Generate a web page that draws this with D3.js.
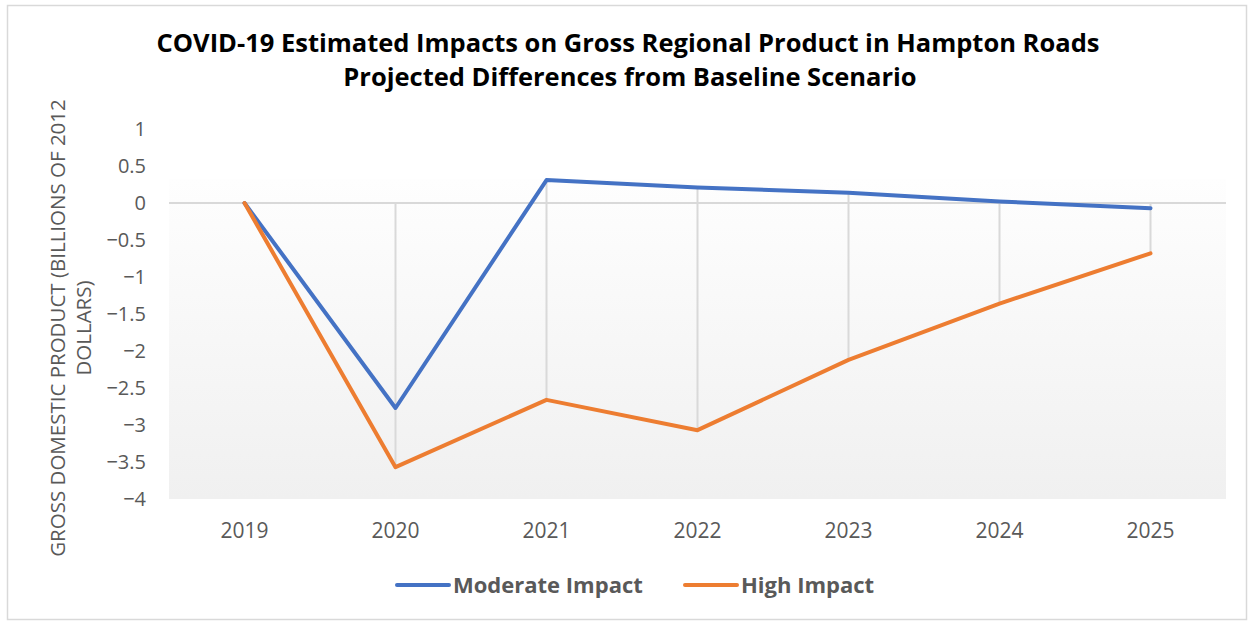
<!DOCTYPE html>
<html>
<head>
<meta charset="utf-8">
<script src="https://cdn.jsdelivr.net/npm/d3@7"></script>
<style>
	body { margin: 0; background: #fff; font-family: "Open Sans", sans-serif; }
	svg text { fill: #595959; }
</style>
</head>
<body>
<div id="___line_chart"></div>
<script>
// data
var years = ["2019", "2020", "2021", "2022", "2023", "2024", "2025"];
var moderate = [0, -2.77, 0.31, 0.21, 0.14, 0.02, -0.07];
var high = [0, -3.57, -2.66, -3.07, -2.12, -1.36, -0.68];
var yTicks = [1, 0.5, 0, -0.5, -1, -1.5, -2, -2.5, -3, -3.5, -4];
var seriesNames = ["Moderate Impact", "High Impact"];
var seriesColors = ["#4472C4", "#ED7D31"];

var width = 1253, height = 623;
var margin = { top: 129, right: 27, bottom: 124, left: 169 };

var svg = d3.select("#___line_chart")
	.append("svg")
	.attr("width", width)
	.attr("height", height);

// chart frame
svg.append("rect")
	.attr("x", 7.5).attr("y", 5.5)
	.attr("width", 1239).attr("height", 614)
	.attr("fill", "#fff")
	.attr("stroke", "#d9d9d9")
	.attr("stroke-width", 1.5);

var x = d3.scaleBand()
	.domain(years)
	.range([margin.left, width - margin.right]);

var y = d3.scaleLinear()
	.domain([-4, 1])
	.range([height - margin.bottom, margin.top]);

// plot area gradient
var defs = svg.append("defs");
var grad = defs.append("linearGradient")
	.attr("id", "plotbg")
	.attr("x1", 0).attr("y1", 0).attr("x2", 0).attr("y2", 1);
grad.append("stop").attr("offset", "0%").attr("stop-color", "#fefefe");
grad.append("stop").attr("offset", "100%").attr("stop-color", "#f0f0f0");

var plotTop = 0.32;
svg.append("rect")
	.attr("x", x.range()[0])
	.attr("y", y(plotTop))
	.attr("width", x.range()[1] - x.range()[0])
	.attr("height", y(-4) - y(plotTop))
	.attr("fill", "url(#plotbg)");

// high-low lines (baseline zero included)
svg.append("g")
	.selectAll("line")
	.data(years)
	.enter()
	.append("line")
	.attr("x1", function (d) { return x(d) + x.bandwidth() / 2; })
	.attr("x2", function (d) { return x(d) + x.bandwidth() / 2; })
	.attr("y1", function (d, i) { return y(Math.max(0, moderate[i], high[i])); })
	.attr("y2", function (d, i) { return y(Math.min(0, moderate[i], high[i])); })
	.attr("stroke", "#d9d9d9")
	.attr("stroke-width", 2);

// zero axis line
svg.append("line")
	.attr("x1", x.range()[0]).attr("x2", x.range()[1])
	.attr("y1", y(0)).attr("y2", y(0))
	.attr("stroke", "#d9d9d9")
	.attr("stroke-width", 2);

// y axis labels
var yAxis = svg.append("g")
	.attr("transform", "translate(" + (margin.left - 23) + ",0)")
	.call(d3.axisLeft(y).tickValues(yTicks).tickSize(0).tickPadding(0).tickFormat(d3.format("")));
yAxis.select(".domain").remove();
yAxis.selectAll("text")
	.attr("font-family", "Open Sans")
	.attr("font-size", 20)
	.style("fill", "#595959");

// x axis labels
var xAxis = svg.append("g")
	.attr("transform", "translate(0," + (height - margin.bottom + 24) + ")")
	.call(d3.axisBottom(x).tickSize(0).tickPadding(0));
xAxis.select(".domain").remove();
xAxis.selectAll("text")
	.attr("font-family", "Open Sans")
	.attr("font-size", 21)
	.style("fill", "#595959");

// lines
var line = d3.line()
	.x(function (d, i) { return x(years[i]) + x.bandwidth() / 2; })
	.y(function (d) { return y(d); });

[moderate, high].forEach(function (s, k) {
	svg.append("path")
		.datum(s)
		.attr("d", line)
		.attr("fill", "none")
		.attr("stroke", seriesColors[k])
		.attr("stroke-width", 4)
		.attr("stroke-linejoin", "round")
		.attr("stroke-linecap", "round");
});

// title
var title = svg.append("text")
	.attr("text-anchor", "middle")
	.attr("font-weight", "bold")
	.attr("font-size", 25.5)
	.style("fill", "#000");
title.append("tspan").attr("x", 628).attr("y", 52)
	.text("COVID-19 Estimated Impacts on Gross Regional Product in Hampton Roads");
title.append("tspan").attr("x", 630).attr("y", 86)
	.text("Projected Differences from Baseline Scenario");

// y axis title
var ytitle = svg.append("text")
	.attr("text-anchor", "middle")
	.attr("font-size", 20.5)
	.attr("transform", "translate(0,328) rotate(-90)");
ytitle.append("tspan").attr("x", 0).attr("y", 65)
	.text("GROSS DOMESTIC PRODUCT (BILLIONS OF 2012");
ytitle.append("tspan").attr("x", 0).attr("y", 91)
	.text("DOLLARS)");

// legend
var legendX = [395, 683];
var legend = svg.append("g")
	.selectAll("g")
	.data(seriesNames)
	.enter()
	.append("g")
	.attr("transform", function (d, i) { return "translate(" + legendX[i] + ",585)"; });
legend.append("line")
	.attr("x1", 2).attr("x2", 54)
	.attr("stroke", function (d, i) { return seriesColors[i]; })
	.attr("stroke-width", 4)
	.attr("stroke-linecap", "round");
legend.append("text")
	.attr("x", 58)
	.attr("dy", "0.35em")
	.attr("font-weight", "bold")
	.attr("font-size", 22)
	.text(function (d) { return d; });
</script>
</body>
</html>
